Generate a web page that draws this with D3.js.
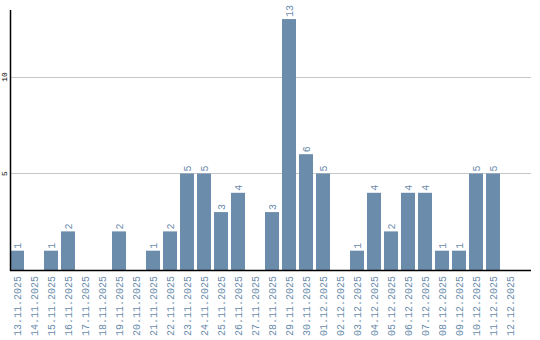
<!DOCTYPE html>
<html>
<head>
<meta charset="utf-8">
<script src="https://d3js.org/d3.v7.min.js"></script>
<style>
  body { margin: 0; background: #fff; }
</style>
</head>
<body>
<div id="chart"></div>
<script>
var dates = ["13.11.2025","14.11.2025","15.11.2025","16.11.2025","17.11.2025","18.11.2025",
  "19.11.2025","20.11.2025","21.11.2025","22.11.2025","23.11.2025","24.11.2025","25.11.2025",
  "26.11.2025","27.11.2025","28.11.2025","29.11.2025","30.11.2025","01.12.2025","02.12.2025",
  "03.12.2025","04.12.2025","05.12.2025","06.12.2025","07.12.2025","08.12.2025","09.12.2025",
  "10.12.2025","11.12.2025","12.12.2025"];
var counts = [1,0,1,2,0,0,2,0,1,2,5,5,3,4,0,3,13,6,5,0,1,4,2,4,4,1,1,5,5,0];
var yTicks = [5, 10];

var W = 540, H = 340;
var plotLeft = 10, plotRight = 531, plotTop = 10, plotBase = 270;
var blue = "#6b8cab";
var mono = "'Liberation Mono', 'DejaVu Sans Mono', monospace";

var svg = d3.select("#chart").append("svg")
  .attr("width", W).attr("height", H);

// bars step 17px, 14px wide
var x = d3.scaleBand()
  .domain(dates)
  .range([plotLeft, plotLeft + 17 * dates.length - 3])
  .paddingInner(3 / 17)
  .paddingOuter(0);

var y = d3.scaleLinear()
  .domain([0, 13.47])
  .range([plotBase, plotTop]);

// gridlines
svg.append("g").selectAll("line")
  .data(yTicks)
  .join("line")
  .attr("x1", plotLeft).attr("x2", plotRight)
  .attr("y1", d => Math.round(y(d)) + 0.5)
  .attr("y2", d => Math.round(y(d)) + 0.5)
  .attr("stroke", "#c8c8c8");

// y tick labels
svg.append("g").selectAll("text")
  .data(yTicks)
  .join("text")
  .attr("transform", d => "translate(7," + y(d) + ") rotate(-90)")
  .attr("text-anchor", "middle")
  .style("font", "8px " + mono)
  .attr("fill", "#000")
  .text(d => d);

// bars
svg.append("g").selectAll("rect")
  .data(counts)
  .join("rect")
  .attr("x", (d, i) => x(dates[i]))
  .attr("y", d => y(d))
  .attr("width", x.bandwidth())
  .attr("height", d => plotBase - y(d))
  .attr("fill", blue);

// value labels
svg.append("g").selectAll("text")
  .data(counts.map((d, i) => ({d: d, i: i})).filter(o => o.d > 0))
  .join("text")
  .attr("transform", o => "translate(" + (x(dates[o.i]) + x.bandwidth() / 2 + 3.5) + "," + (y(o.d) - 2) + ") rotate(-90)")
  .attr("text-anchor", "start")
  .style("font", "10px " + mono)
  .attr("fill", blue)
  .text(o => o.d);

// axis lines
svg.append("line")
  .attr("x1", plotLeft + 0.5).attr("x2", plotLeft + 0.5)
  .attr("y1", plotTop).attr("y2", plotBase + 1)
  .attr("stroke", "#000").attr("stroke-width", 1.5);
svg.append("line")
  .attr("x1", plotLeft).attr("x2", plotRight)
  .attr("y1", plotBase + 0.5).attr("y2", plotBase + 0.5)
  .attr("stroke", "#000").attr("stroke-width", 1.5);

// x labels
svg.append("g").selectAll("text")
  .data(dates)
  .join("text")
  .attr("transform", d => "translate(" + (x(d) + x.bandwidth() / 2 + 3.5) + "," + (plotBase + 6) + ") rotate(-90)")
  .attr("text-anchor", "end")
  .style("font", "10px " + mono)
  .attr("fill", blue)
  .text(d => d);
</script>
</body>
</html>
